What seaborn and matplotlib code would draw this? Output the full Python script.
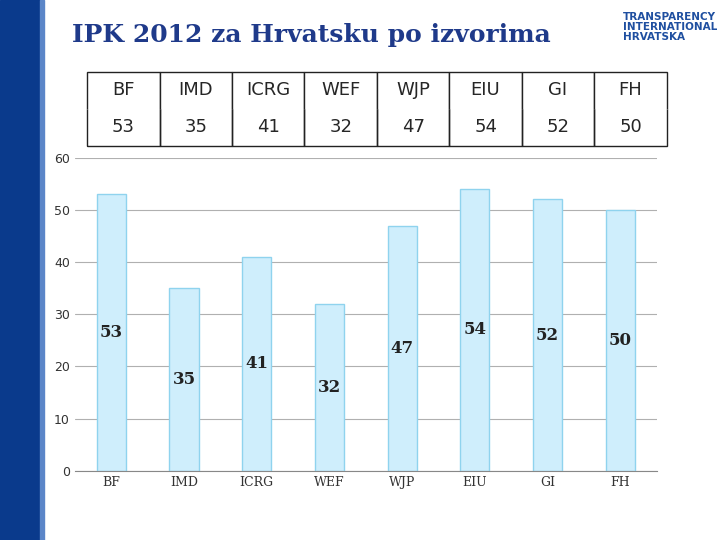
import matplotlib
matplotlib.use("Agg")
import matplotlib.pyplot as plt
import seaborn as sns
import pandas as pd
from matplotlib.patches import Rectangle

sources = ["BF", "IMD", "ICRG", "WEF", "WJP", "EIU", "GI", "FH"]
scores = [53, 35, 41, 32, 47, 54, 52, 50]

sns.set_style("white")
fig = plt.figure(figsize=(7.2, 5.4), dpi=100)
fig.patches.append(Rectangle((0, 0), 0.055, 1, transform=fig.transFigure, color="#0a3a8c", zorder=0))
fig.patches.append(Rectangle((0.055, 0), 0.006, 1, transform=fig.transFigure, color="#5b86c8", zorder=0))
fig.text(0.1, 0.935, "IPK 2012 za Hrvatsku po izvorima", family="DejaVu Serif", fontsize=18,
         fontweight="bold", color="#1f3a8a", va="center")
fig.text(0.865, 0.95, "TRANSPARENCY\nINTERNATIONAL\nHRVATSKA", fontsize=7.5, color="#1f4fa0",
         fontweight="bold", va="center", linespacing=0.95)

ax = fig.add_axes([0.104, 0.128, 0.808, 0.58])
df = pd.DataFrame({"src": sources, "val": scores})
sns.barplot(data=df, x="src", y="val", ax=ax, color="#cfeefc", edgecolor="#8fd3ee",
            linewidth=1, width=0.4, saturation=1)
ax.set_ylim(0, 60)
ax.set_yticks(range(0, 61, 10))
ax.yaxis.grid(True, color="#b0b0b0", linewidth=0.8)
ax.set_axisbelow(True)
for s in ["top", "right", "left"]:
    ax.spines[s].set_visible(False)
ax.spines["bottom"].set_color("#888888")
ax.set_xlabel(""); ax.set_ylabel("")
ax.tick_params(axis="both", length=0, labelsize=9, colors="#333333")
for lbl in ax.get_xticklabels():
    lbl.set_family("DejaVu Serif")
for i, v in enumerate(scores):
    ax.text(i, v / 2, str(v), ha="center", va="center", family="DejaVu Serif",
            fontsize=12, fontweight="bold", color="#222222")

tab = fig.add_axes([0.121, 0.73, 0.805, 0.137])
tab.axis("off")
t = tab.table(cellText=[sources, [str(v) for v in scores]], cellLoc="center",
              bbox=[0, 0, 1, 1])
for (r, c), cell in t.get_celld().items():
    cell.set_edgecolor("#222222")
    cell.get_text().set_fontsize(13)
    if r == 0:
        cell.visible_edges = "TLR"
    else:
        cell.visible_edges = "BLR"
fig.savefig("out.png")
